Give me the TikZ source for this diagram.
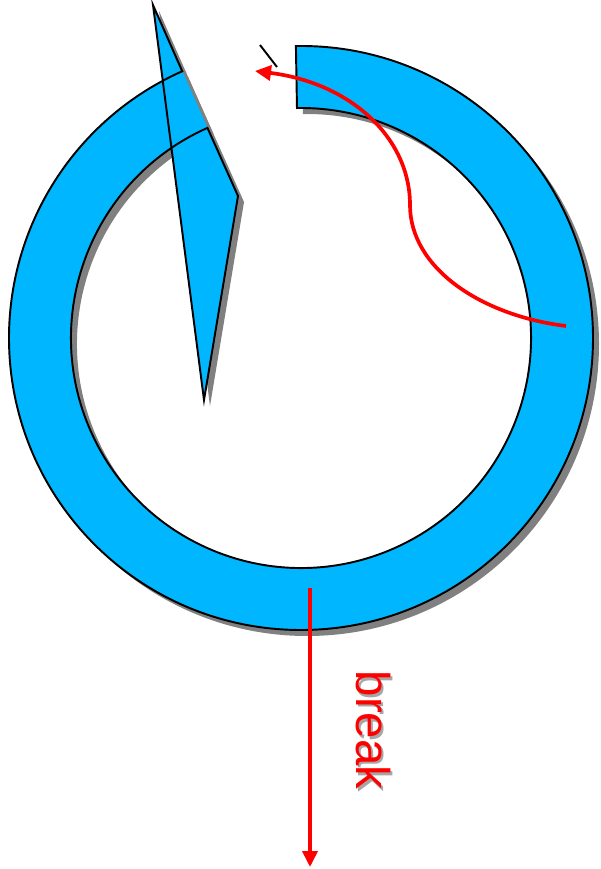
\documentclass[tikz,border=0pt]{standalone}
\usepackage{fontspec}
\setmainfont{Liberation Sans}
\usetikzlibrary{arrows.meta}
\definecolor{ringblue}{RGB}{0,183,255}
\definecolor{shadowgray}{RGB}{128,128,128}

\begin{document}
\begin{tikzpicture}[
  ringshadow/.style={fill=shadowgray, transform canvas={shift={(0.12,-0.12)}}},
  ringfill/.style={fill=ringblue},
  outline/.style={black, line width=1.1pt, line join=miter},
  pull/.style={red, line width=2.1pt, -{Triangle[length=0.32cm,width=0.3cm]}},
  breaktext/.style={rotate=-90, font=\fontsize{27}{27}\selectfont}
]
  \useasboundingbox (-6.02,-10.62) rectangle (5.98,6.76);

  \coordinate (spike) at (-2.96,6.66);
  \coordinate (hand) at (-1.94,-1.24);
  \coordinate (corner) at (-1.26,2.84);

  % shadow of ring and hand
  \fill[ringshadow] (91:5.84) arc[start angle=91,end angle=-246,radius=5.84]
    -- (-246:4.6) arc[start angle=-246,end angle=91,radius=4.6] -- cycle;
  \fill[ringshadow] (114:5.84) -- (spike) -- (hand) -- (corner) -- (114:4.6) -- cycle;

  % blue body
  \fill[ringfill] (91:5.84) arc[start angle=91,end angle=-246,radius=5.84]
    -- (-246:4.6) arc[start angle=-246,end angle=91,radius=4.6] -- cycle;
  \fill[ringfill] (114:5.84) -- (spike) -- (hand) -- (corner) -- (114:4.6) -- cycle;

  % outline
  \draw[outline] (91:5.84) arc[start angle=91,end angle=-246,radius=5.84]
    -- (spike) -- (hand) -- (corner)
    -- (-246:4.6) arc[start angle=-246,end angle=91,radius=4.6] -- cycle;

  \coordinate (tickA) at (-0.82,5.86);
  \coordinate (tickB) at (-0.48,5.42);
  \draw[line width=1.1pt] (tickA) -- (tickB);

  % pull back arrow
  \coordinate (pullstart) at (5.30,0.24);
  \coordinate (pullmid) at (2.18,2.66);
  \coordinate (pullend) at (-0.92,5.34);
  \draw[pull] (pullstart) .. controls (3.6,0.45) and (2.18,1.4) .. (pullmid)
    .. controls (2.18,4.0) and (1.0,5.1) .. (pullend);

  % break arrow
  \coordinate (breaktop) at (0.18,-5.00);
  \coordinate (breakbottom) at (0.18,-10.58);
  \draw[pull] (breaktop) -- (breakbottom);

  \node[breaktext, text=shadowgray!70] (breakshadow) at (1.49,-7.89) {break};
  \node[breaktext, text=red] (breaklabel) at (1.44,-7.84) {break};
\end{tikzpicture}
\end{document}
